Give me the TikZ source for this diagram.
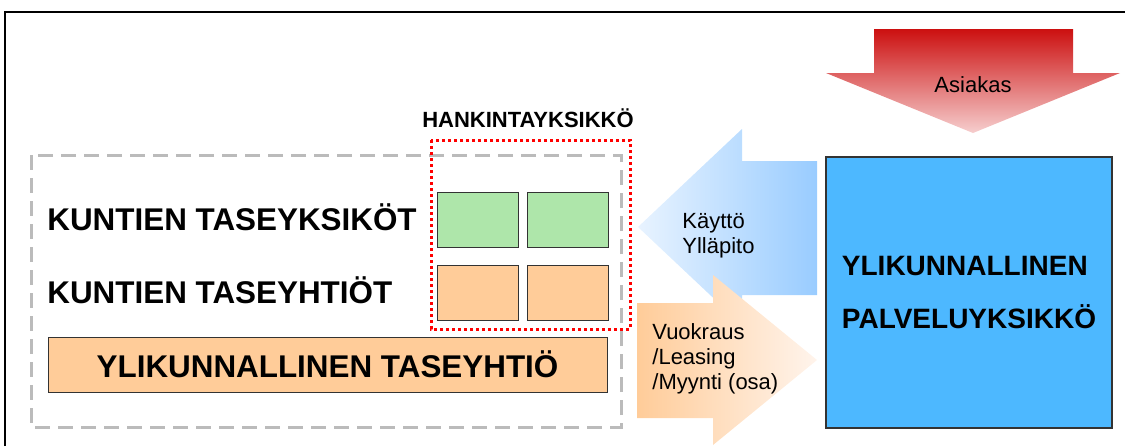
\documentclass[tikz,border=0pt]{standalone}
\usepackage{fontspec}
\setmainfont{Liberation Sans}
\usetikzlibrary{
    positioning
}
\definecolor{cellgreen}{RGB}{174,230,170}
\definecolor{cellorange}{RGB}{255,204,153}
\definecolor{unitblue}{RGB}{77,184,255}
\definecolor{dashgray}{RGB}{187,187,187}
\definecolor{arrowred}{RGB}{204,16,16}
\definecolor{arrowpink}{RGB}{246,206,206}
\definecolor{arrowpaleblue}{RGB}{232,243,255}
\definecolor{arrowblue}{RGB}{153,204,255}
\definecolor{arrowpeach}{RGB}{255,244,236}

\begin{document}
\begin{tikzpicture} [
    x=0.5pt, y=-0.5pt,
    cell/.style = {draw=black!80, line width=0.5pt, minimum width=40.5pt,
        minimum height=27.5pt, inner sep=0pt},
    green cell/.style = {cell, fill=cellgreen},
    orange cell/.style = {cell, fill=cellorange},
    big label/.style = {font=\bfseries\fontsize{15.7}{18}\selectfont,
        inner sep=0pt, anchor=base west},
    arrow text/.style = {font=\fontsize{11}{12.5}\selectfont, align=left,
        inner sep=0pt, anchor=north west}
]
    \useasboundingbox (0,0) rectangle (1125,446);

    % frame, cut off at the right and bottom
    \draw[line width=1pt] (5,446) -- (5,12) -- (1125,12);

    \draw[dashgray, line width=1.5pt, dash pattern=on 7.5pt off 4pt]
        (31,155) rectangle (621,427);

    \node[green cell] (gk1) at (477.5,219.5) {};
    \node[green cell, right=4pt of gk1] (gk2) {};
    \node[orange cell, below=8.5pt of gk1] (ok1) {};
    \node[orange cell, right=4pt of ok1] (ok2) {};

    \node[big label] (taseyksikot) at (47,230) {KUNTIEN TASEYKSIKÖT};
    \node[big label] (taseyhtiot) at (47,303) {KUNTIEN TASEYHTIÖT};

    \node[orange cell, minimum width=279.5pt,
        font=\bfseries\fontsize{15.7}{18}\selectfont] (ylitase) at (327.5,364.5)
        {YLIKUNNALLINEN TASEYHTIÖ};

    \draw[red, line width=1.5pt, dash pattern=on 1.5pt off 1.5pt]
        (431,140) rectangle (630,329);
    \node[font=\bfseries\fontsize{11}{13}\selectfont, anchor=base] (hankinta)
        at (528,127) {HANKINTAYKSIKKÖ};

    % block arrows
    \shade[top color=arrowred, bottom color=arrowpink]
        (874,29) -- (1073,29) -- (1073,73) -- (1120,73) -- (973,133)
        -- (826,73) -- (874,73) -- cycle;
    \shade[left color=arrowpaleblue, right color=arrowblue]
        (817,161) -- (742,161) -- (742,129) -- (638,227) -- (742,325)
        -- (742,295) -- (817,295) -- cycle;
    \shade[left color=cellorange, right color=arrowpeach]
        (637,303) -- (713,303) -- (713,275) -- (817,360) -- (713,445)
        -- (713,418) -- (637,418) -- cycle;

    \node[font=\fontsize{11}{13}\selectfont, anchor=base] (asiakas)
        at (973,92) {Asiakas};
    \node[arrow text] (kaytto) at (682,213) {Käyttö\\Ylläpito};
    \node[arrow text] (vuokraus) at (652,323) {Vuokraus\\/Leasing\\/Myynti (osa)};

    \node[draw=black!80, line width=0.6pt, fill=unitblue, minimum width=143pt,
        minimum height=135.5pt, align=left,
        font=\bfseries\fontsize{14}{26.5}\selectfont] (palvelu) at (969,292.5)
        {YLIKUNNALLINEN\\PALVELUYKSIKKÖ};
\end{tikzpicture}
\end{document}
